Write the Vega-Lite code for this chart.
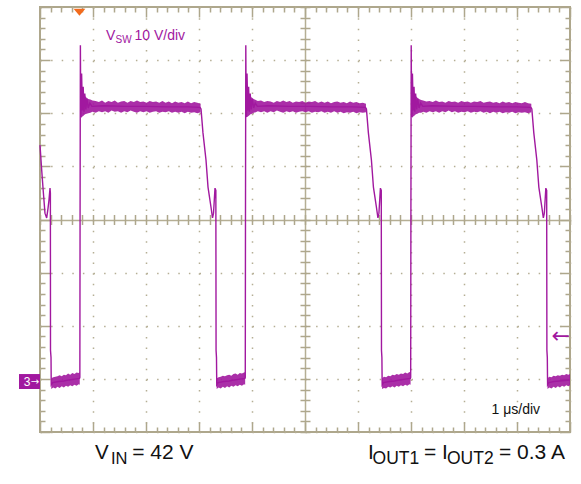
{
"$schema": "https://vega.github.io/schema/vega-lite/v6.json",
"width": 530, "height": 425, "autosize": "none",
"padding": {"left": 40, "top": 7, "right": 11, "bottom": 52},
"background": "white",
"config": {"view": {"stroke": "#aea78c", "strokeWidth": 2}, "font": "Liberation Sans"},
"resolve": {"axis": {"x": "independent", "y": "independent"}},
"datasets": {
"trace": [
{"t":0.000,"v":44.5},{"t":0.032,"v":39.8},{"t":0.060,"v":36.0},{"t":0.094,"v":31.7},{"t":0.126,"v":30.8},{"t":0.150,"v":32.5},{"t":0.170,"v":34.2},{"t":0.189,"v":36.4},{"t":0.196,"v":35.5},{"t":0.198,"v":5.9},{"t":0.208,"v":4.5},{"t":0.212,"v":-0.6},
{"t":0.24,"v":-0.2},{"t":0.35,"v":0.0},{"t":0.45,"v":0.1},{"t":0.55,"v":0.3},{"t":0.65,"v":0.45},{"t":0.745,"v":0.6},
{"t":0.752,"v":0.8},{"t":0.756,"v":30},{"t":0.762,"v":63.3},{"t":0.768,"v":52},{"t":0.774,"v":49.8},{"t":0.785,"v":58.0},{"t":0.800,"v":51.0},{"t":0.815,"v":55.5},{"t":0.830,"v":50.8},{"t":0.845,"v":54.2},{"t":0.865,"v":51.2},{"t":0.885,"v":53.2},{"t":0.91,"v":51.5},{"t":0.94,"v":52.4},{"t":0.98,"v":51.8},
{"t":1.2,"v":51.9},{"t":1.6,"v":51.8},{"t":2.0,"v":51.8},{"t":2.4,"v":51.7},{"t":2.8,"v":51.7},{"t":3.02,"v":51.6},
{"t":3.038,"v":51.3},{"t":3.075,"v":46.8},{"t":3.132,"v":41.7},{"t":3.170,"v":36.6},{"t":3.226,"v":32.85},{"t":3.255,"v":30.8},{"t":3.274,"v":31.7},{"t":3.302,"v":36.4},{"t":3.318,"v":36.0},{"t":3.322,"v":5.9},{"t":3.330,"v":4.5},{"t":3.335,"v":-0.6},
{"t":3.36,"v":-0.2},{"t":3.47,"v":0.0},{"t":3.57,"v":0.1},{"t":3.67,"v":0.3},{"t":3.77,"v":0.45},{"t":3.866,"v":0.6},
{"t":3.873,"v":0.8},{"t":3.877,"v":30},{"t":3.883,"v":63.3},{"t":3.889,"v":52},{"t":3.895,"v":49.8},{"t":3.906,"v":58.0},{"t":3.921,"v":51.0},{"t":3.936,"v":55.5},{"t":3.951,"v":50.8},{"t":3.966,"v":54.2},{"t":3.986,"v":51.2},{"t":4.006,"v":53.2},{"t":4.031,"v":51.5},{"t":4.061,"v":52.4},{"t":4.101,"v":51.8},
{"t":4.3,"v":51.9},{"t":4.7,"v":51.8},{"t":5.1,"v":51.8},{"t":5.5,"v":51.7},{"t":5.9,"v":51.7},{"t":6.141,"v":51.6},
{"t":6.159,"v":51.3},{"t":6.196,"v":46.8},{"t":6.253,"v":41.7},{"t":6.291,"v":36.6},{"t":6.347,"v":32.85},{"t":6.376,"v":30.8},{"t":6.395,"v":31.7},{"t":6.423,"v":36.4},{"t":6.439,"v":36.0},{"t":6.443,"v":5.9},{"t":6.451,"v":4.5},{"t":6.456,"v":-0.6},
{"t":6.48,"v":-0.2},{"t":6.59,"v":0.0},{"t":6.69,"v":0.1},{"t":6.79,"v":0.3},{"t":6.89,"v":0.45},{"t":6.987,"v":0.6},
{"t":6.994,"v":0.8},{"t":6.998,"v":30},{"t":7.004,"v":63.3},{"t":7.010,"v":52},{"t":7.016,"v":49.8},{"t":7.027,"v":58.0},{"t":7.042,"v":51.0},{"t":7.057,"v":55.5},{"t":7.072,"v":50.8},{"t":7.087,"v":54.2},{"t":7.107,"v":51.2},{"t":7.127,"v":53.2},{"t":7.152,"v":51.5},{"t":7.182,"v":52.4},{"t":7.222,"v":51.8},
{"t":7.4,"v":51.9},{"t":7.8,"v":51.8},{"t":8.2,"v":51.8},{"t":8.6,"v":51.7},{"t":9.0,"v":51.7},{"t":9.262,"v":51.6},
{"t":9.280,"v":51.3},{"t":9.317,"v":46.8},{"t":9.374,"v":41.7},{"t":9.412,"v":36.6},{"t":9.468,"v":32.85},{"t":9.497,"v":30.8},{"t":9.516,"v":31.7},{"t":9.544,"v":36.4},{"t":9.560,"v":36.0},{"t":9.564,"v":5.9},{"t":9.572,"v":4.5},{"t":9.577,"v":-0.6},
{"t":9.60,"v":-0.2},{"t":9.70,"v":0.0},{"t":9.80,"v":0.1},{"t":9.90,"v":0.2},{"t":10.0,"v":0.3}
],
"band": [
{"seg":"top1","t":0.775,"lo":49.6,"hi":55.0},{"seg":"top1","t":0.800,"lo":49.9,"hi":54.5},{"seg":"top1","t":0.825,"lo":50.1,"hi":54.0},{"seg":"top1","t":0.850,"lo":50.3,"hi":53.7},{"seg":"top1","t":0.880,"lo":50.4,"hi":53.4},{"seg":"top1","t":0.910,"lo":50.5,"hi":53.2},{"seg":"top1","t":0.950,"lo":50.6,"hi":53.1},{"seg":"top1","t":0.99,"lo":50.8,"hi":52.9},{"seg":"top1","t":1.05,"lo":50.6,"hi":52.8},{"seg":"top1","t":1.11,"lo":50.9,"hi":52.6},{"seg":"top1","t":1.17,"lo":50.7,"hi":52.9},{"seg":"top1","t":1.23,"lo":50.9,"hi":52.5},{"seg":"top1","t":1.29,"lo":50.6,"hi":52.8},{"seg":"top1","t":1.35,"lo":51.0,"hi":52.6},{"seg":"top1","t":1.41,"lo":50.8,"hi":52.9},{"seg":"top1","t":1.47,"lo":50.9,"hi":52.5},{"seg":"top1","t":1.53,"lo":50.6,"hi":52.7},{"seg":"top1","t":1.59,"lo":50.9,"hi":52.8},{"seg":"top1","t":1.65,"lo":50.7,"hi":52.5},{"seg":"top1","t":1.71,"lo":51.0,"hi":52.8},{"seg":"top1","t":1.77,"lo":50.8,"hi":52.6},{"seg":"top1","t":1.83,"lo":50.6,"hi":52.9},{"seg":"top1","t":1.89,"lo":50.9,"hi":52.6},{"seg":"top1","t":1.95,"lo":50.7,"hi":52.7},{"seg":"top1","t":2.01,"lo":50.9,"hi":52.5},{"seg":"top1","t":2.07,"lo":50.6,"hi":52.8},{"seg":"top1","t":2.13,"lo":50.8,"hi":52.6},{"seg":"top1","t":2.19,"lo":50.9,"hi":52.7},{"seg":"top1","t":2.25,"lo":50.6,"hi":52.5},{"seg":"top1","t":2.31,"lo":50.8,"hi":52.8},{"seg":"top1","t":2.37,"lo":50.7,"hi":52.5},{"seg":"top1","t":2.43,"lo":50.9,"hi":52.7},{"seg":"top1","t":2.49,"lo":50.6,"hi":52.4},{"seg":"top1","t":2.55,"lo":50.8,"hi":52.7},{"seg":"top1","t":2.61,"lo":50.6,"hi":52.5},{"seg":"top1","t":2.67,"lo":50.8,"hi":52.6},{"seg":"top1","t":2.73,"lo":50.5,"hi":52.4},{"seg":"top1","t":2.79,"lo":50.8,"hi":52.7},{"seg":"top1","t":2.85,"lo":50.6,"hi":52.4},{"seg":"top1","t":2.91,"lo":50.7,"hi":52.6},{"seg":"top1","t":2.97,"lo":50.5,"hi":52.5},{"seg":"top1","t":3.03,"lo":50.7,"hi":52.3},
{"seg":"top2","t":3.896,"lo":49.7,"hi":55.0},{"seg":"top2","t":3.921,"lo":49.9,"hi":54.4},{"seg":"top2","t":3.946,"lo":50.1,"hi":54.0},{"seg":"top2","t":3.971,"lo":50.3,"hi":53.6},{"seg":"top2","t":4.001,"lo":50.4,"hi":53.4},{"seg":"top2","t":4.031,"lo":50.6,"hi":53.2},{"seg":"top2","t":4.071,"lo":50.7,"hi":53.0},{"seg":"top2","t":4.11,"lo":50.9,"hi":52.8},{"seg":"top2","t":4.17,"lo":50.7,"hi":52.9},{"seg":"top2","t":4.23,"lo":50.9,"hi":52.6},{"seg":"top2","t":4.29,"lo":50.6,"hi":52.8},{"seg":"top2","t":4.35,"lo":50.9,"hi":52.7},{"seg":"top2","t":4.41,"lo":50.7,"hi":52.5},{"seg":"top2","t":4.47,"lo":51.0,"hi":52.8},{"seg":"top2","t":4.53,"lo":50.8,"hi":52.6},{"seg":"top2","t":4.59,"lo":50.6,"hi":52.9},{"seg":"top2","t":4.65,"lo":50.9,"hi":52.6},{"seg":"top2","t":4.71,"lo":50.7,"hi":52.8},{"seg":"top2","t":4.77,"lo":50.9,"hi":52.5},{"seg":"top2","t":4.83,"lo":50.6,"hi":52.7},{"seg":"top2","t":4.89,"lo":50.8,"hi":52.6},{"seg":"top2","t":4.95,"lo":50.9,"hi":52.8},{"seg":"top2","t":5.01,"lo":50.7,"hi":52.5},{"seg":"top2","t":5.07,"lo":50.9,"hi":52.7},{"seg":"top2","t":5.13,"lo":50.6,"hi":52.6},{"seg":"top2","t":5.19,"lo":50.8,"hi":52.8},{"seg":"top2","t":5.25,"lo":50.7,"hi":52.5},{"seg":"top2","t":5.31,"lo":50.9,"hi":52.7},{"seg":"top2","t":5.37,"lo":50.6,"hi":52.5},{"seg":"top2","t":5.43,"lo":50.8,"hi":52.7},{"seg":"top2","t":5.49,"lo":50.6,"hi":52.4},{"seg":"top2","t":5.55,"lo":50.9,"hi":52.6},{"seg":"top2","t":5.61,"lo":50.6,"hi":52.7},{"seg":"top2","t":5.67,"lo":50.8,"hi":52.5},{"seg":"top2","t":5.73,"lo":50.5,"hi":52.6},{"seg":"top2","t":5.79,"lo":50.7,"hi":52.4},{"seg":"top2","t":5.85,"lo":50.6,"hi":52.7},{"seg":"top2","t":5.91,"lo":50.8,"hi":52.5},{"seg":"top2","t":5.97,"lo":50.5,"hi":52.6},{"seg":"top2","t":6.03,"lo":50.7,"hi":52.4},{"seg":"top2","t":6.09,"lo":50.6,"hi":52.5},{"seg":"top2","t":6.15,"lo":50.7,"hi":52.3},
{"seg":"top3","t":7.017,"lo":49.6,"hi":55.1},{"seg":"top3","t":7.042,"lo":49.9,"hi":54.5},{"seg":"top3","t":7.067,"lo":50.1,"hi":54.0},{"seg":"top3","t":7.092,"lo":50.3,"hi":53.7},{"seg":"top3","t":7.122,"lo":50.4,"hi":53.4},{"seg":"top3","t":7.152,"lo":50.6,"hi":53.2},{"seg":"top3","t":7.192,"lo":50.6,"hi":53.0},{"seg":"top3","t":7.23,"lo":50.8,"hi":52.9},{"seg":"top3","t":7.29,"lo":50.6,"hi":52.7},{"seg":"top3","t":7.35,"lo":50.9,"hi":52.8},{"seg":"top3","t":7.41,"lo":50.7,"hi":52.6},{"seg":"top3","t":7.47,"lo":50.9,"hi":52.9},{"seg":"top3","t":7.53,"lo":50.6,"hi":52.6},{"seg":"top3","t":7.59,"lo":50.9,"hi":52.7},{"seg":"top3","t":7.65,"lo":50.7,"hi":52.5},{"seg":"top3","t":7.71,"lo":51.0,"hi":52.8},{"seg":"top3","t":7.77,"lo":50.7,"hi":52.6},{"seg":"top3","t":7.83,"lo":50.9,"hi":52.7},{"seg":"top3","t":7.89,"lo":50.6,"hi":52.5},{"seg":"top3","t":7.95,"lo":50.8,"hi":52.8},{"seg":"top3","t":8.01,"lo":50.7,"hi":52.6},{"seg":"top3","t":8.07,"lo":50.9,"hi":52.7},{"seg":"top3","t":8.13,"lo":50.6,"hi":52.5},{"seg":"top3","t":8.19,"lo":50.8,"hi":52.7},{"seg":"top3","t":8.25,"lo":50.7,"hi":52.6},{"seg":"top3","t":8.31,"lo":50.9,"hi":52.8},{"seg":"top3","t":8.37,"lo":50.6,"hi":52.5},{"seg":"top3","t":8.43,"lo":50.8,"hi":52.6},{"seg":"top3","t":8.49,"lo":50.5,"hi":52.7},{"seg":"top3","t":8.55,"lo":50.8,"hi":52.5},{"seg":"top3","t":8.61,"lo":50.6,"hi":52.6},{"seg":"top3","t":8.67,"lo":50.8,"hi":52.4},{"seg":"top3","t":8.73,"lo":50.5,"hi":52.7},{"seg":"top3","t":8.79,"lo":50.7,"hi":52.5},{"seg":"top3","t":8.85,"lo":50.6,"hi":52.6},{"seg":"top3","t":8.91,"lo":50.8,"hi":52.4},{"seg":"top3","t":8.97,"lo":50.5,"hi":52.6},{"seg":"top3","t":9.03,"lo":50.7,"hi":52.5},{"seg":"top3","t":9.09,"lo":50.6,"hi":52.4},{"seg":"top3","t":9.15,"lo":50.7,"hi":52.6},{"seg":"top3","t":9.21,"lo":50.5,"hi":52.4},{"seg":"top3","t":9.27,"lo":50.7,"hi":52.3},
{"seg":"low0","t":0.212,"lo":-1.4,"hi":0.6},{"seg":"low0","t":0.25,"lo":-1.1,"hi":0.8},{"seg":"low0","t":0.29,"lo":-1.3,"hi":0.9},{"seg":"low0","t":0.33,"lo":-1.0,"hi":1.0},{"seg":"low0","t":0.37,"lo":-1.2,"hi":1.2},{"seg":"low0","t":0.41,"lo":-0.9,"hi":1.0},{"seg":"low0","t":0.45,"lo":-1.1,"hi":1.3},{"seg":"low0","t":0.49,"lo":-0.8,"hi":1.2},{"seg":"low0","t":0.53,"lo":-1.0,"hi":1.5},{"seg":"low0","t":0.57,"lo":-0.7,"hi":1.3},{"seg":"low0","t":0.61,"lo":-0.9,"hi":1.6},{"seg":"low0","t":0.65,"lo":-0.6,"hi":1.4},{"seg":"low0","t":0.69,"lo":-0.8,"hi":1.7},{"seg":"low0","t":0.73,"lo":-0.5,"hi":1.6},{"seg":"low0","t":0.75,"lo":-0.6,"hi":1.8},
{"seg":"low1","t":3.333,"lo":-1.4,"hi":0.6},{"seg":"low1","t":3.37,"lo":-1.1,"hi":0.8},{"seg":"low1","t":3.41,"lo":-1.3,"hi":0.9},{"seg":"low1","t":3.45,"lo":-1.0,"hi":1.1},{"seg":"low1","t":3.49,"lo":-1.2,"hi":1.0},{"seg":"low1","t":3.53,"lo":-0.9,"hi":1.2},{"seg":"low1","t":3.57,"lo":-1.1,"hi":1.3},{"seg":"low1","t":3.61,"lo":-0.8,"hi":1.1},{"seg":"low1","t":3.65,"lo":-1.0,"hi":1.4},{"seg":"low1","t":3.69,"lo":-0.7,"hi":1.5},{"seg":"low1","t":3.73,"lo":-0.9,"hi":1.3},{"seg":"low1","t":3.77,"lo":-0.6,"hi":1.6},{"seg":"low1","t":3.81,"lo":-0.8,"hi":1.5},{"seg":"low1","t":3.85,"lo":-0.5,"hi":1.7},{"seg":"low1","t":3.871,"lo":-0.6,"hi":1.8},
{"seg":"low2","t":6.454,"lo":-1.4,"hi":0.6},{"seg":"low2","t":6.49,"lo":-1.2,"hi":0.9},{"seg":"low2","t":6.53,"lo":-1.3,"hi":0.8},{"seg":"low2","t":6.57,"lo":-1.0,"hi":1.1},{"seg":"low2","t":6.61,"lo":-1.1,"hi":1.0},{"seg":"low2","t":6.65,"lo":-0.9,"hi":1.3},{"seg":"low2","t":6.69,"lo":-1.1,"hi":1.2},{"seg":"low2","t":6.73,"lo":-0.8,"hi":1.4},{"seg":"low2","t":6.77,"lo":-1.0,"hi":1.3},{"seg":"low2","t":6.81,"lo":-0.7,"hi":1.5},{"seg":"low2","t":6.85,"lo":-0.9,"hi":1.4},{"seg":"low2","t":6.89,"lo":-0.6,"hi":1.7},{"seg":"low2","t":6.93,"lo":-0.8,"hi":1.5},{"seg":"low2","t":6.97,"lo":-0.5,"hi":1.8},{"seg":"low2","t":6.992,"lo":-0.6,"hi":1.7},
{"seg":"low3","t":9.575,"lo":-1.4,"hi":0.6},{"seg":"low3","t":9.61,"lo":-1.1,"hi":0.9},{"seg":"low3","t":9.65,"lo":-1.3,"hi":0.8},{"seg":"low3","t":9.69,"lo":-1.0,"hi":1.1},{"seg":"low3","t":9.73,"lo":-1.2,"hi":1.0},{"seg":"low3","t":9.77,"lo":-0.9,"hi":1.2},{"seg":"low3","t":9.81,"lo":-1.1,"hi":1.1},{"seg":"low3","t":9.85,"lo":-0.8,"hi":1.3},{"seg":"low3","t":9.89,"lo":-1.0,"hi":1.2},{"seg":"low3","t":9.93,"lo":-0.7,"hi":1.4},{"seg":"low3","t":9.97,"lo":-0.9,"hi":1.3},{"seg":"low3","t":10.0,"lo":-0.7,"hi":1.4}
]
},
"layer": [
{"data": {"name": "band"},
 "mark": {"type": "area", "color": "#a1189f", "opacity": 0.9},
 "encoding": {
  "x": {"field": "t", "type": "quantitative", "scale": {"domain": [0, 10], "nice": false, "zero": false},
   "axis": {"orient": "bottom", "values": [0,0.2,0.4,0.6,0.8,1,1.2,1.4,1.6,1.8,2,2.2,2.4,2.6,2.8,3,3.2,3.4,3.6,3.8,4,4.2,4.4,4.6,4.8,5,5.2,5.4,5.6,5.8,6,6.2,6.4,6.6,6.8,7,7.2,7.4,7.6,7.8,8,8.2,8.4,8.6,8.8,9,9.2,9.4,9.6,9.8,10],
    "labels": false, "domain": false, "title": null, "ticks": true, "tickColor": "#aea78c", "tickWidth": 1.5,
    "tickSize": {"condition": {"test": "abs(datum.value-round(datum.value))<0.01", "value": -10}, "value": -5},
    "grid": true, "gridColor": "#b5ae94", "gridWidth": 1.5,
    "gridDash": {"condition": {"test": "abs(datum.value-5)<0.01", "value": []}, "value": [1.5, 9.125]},
    "gridOpacity": {"condition": {"test": "abs(datum.value-round(datum.value))<0.01", "value": 1}, "value": 0}}},
  "y": {"field": "lo", "type": "quantitative", "scale": {"domain": [-9.5, 70.5], "nice": false, "zero": false},
   "axis": {"orient": "left", "values": [-9.5,-7.5,-5.5,-3.5,-1.5,0.5,2.5,4.5,6.5,8.5,10.5,12.5,14.5,16.5,18.5,20.5,22.5,24.5,26.5,28.5,30.5,32.5,34.5,36.5,38.5,40.5,42.5,44.5,46.5,48.5,50.5,52.5,54.5,56.5,58.5,60.5,62.5,64.5,66.5,68.5,70.5],
    "labels": false, "domain": false, "title": null, "ticks": true, "tickColor": "#aea78c", "tickWidth": 1.5,
    "tickSize": {"condition": {"test": "abs((datum.value+9.5)/10-round((datum.value+9.5)/10))<0.01", "value": -10}, "value": -5},
    "grid": true, "gridColor": "#b5ae94", "gridWidth": 1.5,
    "gridDash": {"condition": {"test": "abs(datum.value-30.5)<0.01", "value": []}, "value": [1.5, 9.1]},
    "gridOpacity": {"condition": {"test": "abs((datum.value+9.5)/10-round((datum.value+9.5)/10))<0.01", "value": 1}, "value": 0}}},
  "y2": {"field": "hi"},
  "detail": {"field": "seg"}
 }},
{"data": {"name": "trace"},
 "mark": {"type": "line", "color": "#a1189f", "strokeWidth": 1.4},
 "encoding": {
  "x": {"field": "t", "type": "quantitative",
   "axis": {"orient": "top", "values": [0,0.2,0.4,0.6,0.8,1,1.2,1.4,1.6,1.8,2,2.2,2.4,2.6,2.8,3,3.2,3.4,3.6,3.8,4,4.2,4.4,4.6,4.8,5,5.2,5.4,5.6,5.8,6,6.2,6.4,6.6,6.8,7,7.2,7.4,7.6,7.8,8,8.2,8.4,8.6,8.8,9,9.2,9.4,9.6,9.8,10],
    "labels": false, "domain": false, "title": null, "grid": false, "tickColor": "#aea78c", "tickWidth": 1.5,
    "tickSize": {"condition": {"test": "abs(datum.value-round(datum.value))<0.01", "value": -10}, "value": -5}}},
  "y": {"field": "v", "type": "quantitative",
   "axis": {"orient": "right", "values": [-9.5,-7.5,-5.5,-3.5,-1.5,0.5,2.5,4.5,6.5,8.5,10.5,12.5,14.5,16.5,18.5,20.5,22.5,24.5,26.5,28.5,30.5,32.5,34.5,36.5,38.5,40.5,42.5,44.5,46.5,48.5,50.5,52.5,54.5,56.5,58.5,60.5,62.5,64.5,66.5,68.5,70.5],
    "labels": false, "domain": false, "title": null, "grid": false, "tickColor": "#aea78c", "tickWidth": 1.5,
    "tickSize": {"condition": {"test": "abs((datum.value+9.5)/10-round((datum.value+9.5)/10))<0.01", "value": -10}, "value": -5}}}
 }},
{"data": {"values": [{}]},
 "mark": {"type": "text", "text": "←", "align": "right", "baseline": "middle", "font": "DejaVu Sans", "fontSize": 22, "color": "#a1189f", "dx": 0},
 "encoding": {
  "x": {"datum": 10, "type": "quantitative",
   "axis": {"orient": "bottom", "offset": -217.5, "values": [0,0.2,0.4,0.6,0.8,1,1.2,1.4,1.6,1.8,2,2.2,2.4,2.6,2.8,3,3.2,3.4,3.6,3.8,4,4.2,4.4,4.6,4.8,5,5.2,5.4,5.6,5.8,6,6.2,6.4,6.6,6.8,7,7.2,7.4,7.6,7.8,8,8.2,8.4,8.6,8.8,9,9.2,9.4,9.6,9.8,10],
    "labels": false, "domain": false, "title": null, "grid": false, "tickColor": "#aea78c", "tickWidth": 1.5, "tickSize": 10}},
  "y": {"datum": 8.56, "type": "quantitative",
   "axis": {"orient": "left", "offset": -270, "values": [-9.5,-7.5,-5.5,-3.5,-1.5,0.5,2.5,4.5,6.5,8.5,10.5,12.5,14.5,16.5,18.5,20.5,22.5,24.5,26.5,28.5,30.5,32.5,34.5,36.5,38.5,40.5,42.5,44.5,46.5,48.5,50.5,52.5,54.5,56.5,58.5,60.5,62.5,64.5,66.5,68.5,70.5],
    "labels": false, "domain": false, "title": null, "grid": false, "tickColor": "#aea78c", "tickWidth": 1.5, "tickSize": 10}}
 }},
{"data": {"values": [{}]},
 "mark": {"type": "point", "shape": "M-1,-0.6L1,-0.6L0,0.6Z", "size": 140, "filled": true, "color": "#f26b1d", "opacity": 1},
 "encoding": {"x": {"datum": 0.745, "type": "quantitative", "axis": null}, "y": {"datum": 69.5, "type": "quantitative", "axis": null}}},
{"data": {"values": [{}]},
 "mark": {"type": "rect", "color": "#a1189f"},
 "encoding": {"x": {"datum": -0.396, "type": "quantitative", "axis": null}, "x2": {"datum": 0}, "y": {"datum": 1.41, "type": "quantitative", "axis": null}, "y2": {"datum": -1.41}}},
{"data": {"values": [{}]},
 "mark": {"type": "text", "text": "3", "align": "center", "baseline": "middle", "fontSize": 12, "color": "white"},
 "encoding": {"x": {"datum": -0.245, "type": "quantitative", "axis": null}, "y": {"datum": 0, "type": "quantitative", "axis": null}}},
{"data": {"values": [{}]},
 "mark": {"type": "text", "text": "→", "align": "center", "baseline": "middle", "font": "DejaVu Sans", "fontSize": 10, "color": "white"},
 "encoding": {"x": {"datum": -0.094, "type": "quantitative", "axis": null}, "y": {"datum": 0, "type": "quantitative", "axis": null}}},
{"data": {"values": [{}]},
 "mark": {"type": "text", "text": "V", "align": "left", "baseline": "alphabetic", "fontSize": 14, "color": "#a1189f"},
 "encoding": {"x": {"datum": 1.245, "type": "quantitative", "axis": null}, "y": {"datum": 64.28, "type": "quantitative", "axis": null}}},
{"data": {"values": [{}]},
 "mark": {"type": "text", "text": "SW", "align": "left", "baseline": "alphabetic", "fontSize": 10, "color": "#a1189f"},
 "encoding": {"x": {"datum": 1.425, "type": "quantitative", "axis": null}, "y": {"datum": 63.81, "type": "quantitative", "axis": null}}},
{"data": {"values": [{}]},
 "mark": {"type": "text", "text": "10 V/div", "align": "left", "baseline": "alphabetic", "fontSize": 14, "color": "#a1189f"},
 "encoding": {"x": {"datum": 1.783, "type": "quantitative", "axis": null}, "y": {"datum": 64.28, "type": "quantitative", "axis": null}}},
{"data": {"values": [{}]},
 "mark": {"type": "text", "text": "1 μs/div", "align": "left", "baseline": "alphabetic", "fontSize": 14, "color": "#111111"},
 "encoding": {"x": {"datum": 8.519, "type": "quantitative", "axis": null}, "y": {"datum": -6.12, "type": "quantitative", "axis": null}}},
{"data": {"values": [{}]},
 "mark": {"type": "text", "text": "V", "align": "left", "baseline": "alphabetic", "fontSize": 20.5, "color": "#111111"},
 "encoding": {"x": {"datum": 1.038, "type": "quantitative", "axis": null}, "y": {"datum": -14.59, "type": "quantitative", "axis": null}}},
{"data": {"values": [{}]},
 "mark": {"type": "text", "text": "IN", "align": "left", "baseline": "alphabetic", "fontSize": 16.5, "color": "#111111"},
 "encoding": {"x": {"datum": 1.34, "type": "quantitative", "axis": null}, "y": {"datum": -15.53, "type": "quantitative", "axis": null}}},
{"data": {"values": [{}]},
 "mark": {"type": "text", "text": "= 42 V", "align": "left", "baseline": "alphabetic", "fontSize": 21, "color": "#111111"},
 "encoding": {"x": {"datum": 1.74, "type": "quantitative", "axis": null}, "y": {"datum": -14.59, "type": "quantitative", "axis": null}}},
{"data": {"values": [{}]},
 "mark": {"type": "text", "text": "I", "align": "left", "baseline": "alphabetic", "fontSize": 21, "color": "#111111"},
 "encoding": {"x": {"datum": 6.189, "type": "quantitative", "axis": null}, "y": {"datum": -14.59, "type": "quantitative", "axis": null}}},
{"data": {"values": [{}]},
 "mark": {"type": "text", "text": "OUT1", "align": "left", "baseline": "alphabetic", "fontSize": 17.5, "color": "#111111"},
 "encoding": {"x": {"datum": 6.274, "type": "quantitative", "axis": null}, "y": {"datum": -15.53, "type": "quantitative", "axis": null}}},
{"data": {"values": [{}]},
 "mark": {"type": "text", "text": "= I", "align": "left", "baseline": "alphabetic", "fontSize": 21, "color": "#111111"},
 "encoding": {"x": {"datum": 7.245, "type": "quantitative", "axis": null}, "y": {"datum": -14.59, "type": "quantitative", "axis": null}}},
{"data": {"values": [{}]},
 "mark": {"type": "text", "text": "OUT2", "align": "left", "baseline": "alphabetic", "fontSize": 17.5, "color": "#111111"},
 "encoding": {"x": {"datum": 7.679, "type": "quantitative", "axis": null}, "y": {"datum": -15.53, "type": "quantitative", "axis": null}}},
{"data": {"values": [{}]},
 "mark": {"type": "text", "text": "= 0.3 A", "align": "left", "baseline": "alphabetic", "fontSize": 21, "color": "#111111"},
 "encoding": {"x": {"datum": 8.660, "type": "quantitative", "axis": null}, "y": {"datum": -14.59, "type": "quantitative", "axis": null}}}
]
}
